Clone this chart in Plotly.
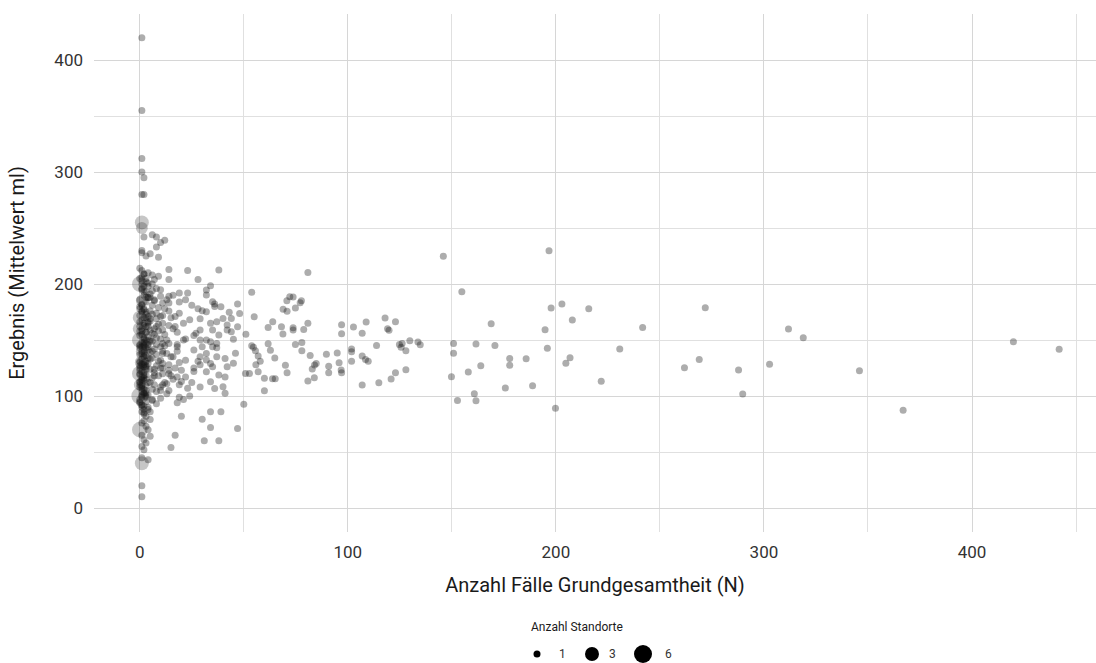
import math
import plotly.graph_objects as go

# ---------------- data ----------------
# Standorte = 1, dense column N <= 11
n_saeule = [1, 1, 3, 5, 9, 2, 6, 8, 10, 8,
            2, 4, 6, 9, 1, 3,
            1, 2, 4, 6, 8, 3, 5, 10, 7, 1, 2,
            0, 1, 2, 3, 4, 5, 6, 7, 9, 11, 8, 1,
            0, 1, 2, 3, 4, 5, 6, 7, 8, 9, 10, 3,
            0, 1, 1, 2, 3, 4, 4, 5, 6, 7, 8, 9, 10, 11, 2,
            0, 1, 1, 2, 3, 3, 4, 5, 6, 7, 8, 9, 10, 11, 2,
            0, 1, 1, 2, 3, 4, 5, 6, 7, 8, 9, 11, 3,
            0, 1, 2, 2, 3, 4, 5, 6, 7, 8, 10, 1,
            0, 1, 2, 3, 4, 5, 6, 8, 10, 3,
            2, 3, 2, 5, 1, 3, 4, 1, 2, 3, 1, 2, 5, 4, 1,
            1, 1, 1, 1, 1, 1, 2, 1, 2,
            0, 1, 2, 3, 0, 1, 2, 4, 0, 1, 3, 2, 0, 1, 2, 0, 1, 3, 0, 2, 1, 0, 2, 1, 3, 0, 1, 2]
erg_saeule = [230, 228, 225, 227, 224, 242, 244, 242, 237, 233,
              209, 210, 208, 207, 212, 205,
              203, 198, 201, 200, 196, 193, 191, 189, 204, 195, 190,
              186, 182, 178, 184, 188, 176, 181, 186, 179, 183, 174, 176,
              172, 168, 165, 170, 162, 167, 173, 160, 169, 164, 171, 175,
              158, 155, 148, 152, 157, 146, 153, 159, 149, 155, 146, 158, 151, 147, 145,
              143, 138, 133, 141, 136, 131, 144, 139, 134, 142, 137, 131, 144, 140, 130,
              127, 122, 117, 126, 119, 129, 124, 116, 121, 127, 118, 125, 115,
              112, 107, 103, 114, 109, 101, 112, 106, 110, 104, 105, 101,
              97, 92, 88, 95, 90, 86, 96, 93, 98, 99,
              84, 82, 78, 79, 76, 73, 70, 65, 61, 58, 55, 52, 64, 43, 45,
              20, 10, 420, 355, 312, 300, 295, 280, 280,
              205, 200, 193, 188, 180, 175, 170, 166, 162, 160, 150, 148, 146, 140, 135, 130, 128, 124, 120, 118, 115, 110, 106, 104, 100, 95, 90, 85]

# Standorte = 1, further points in the dark core of the column
n_kern = [0, 2, 1, 4, 3, 6, 5, 7, 1, 0, 3, 2, 5, 4, 8, 1, 0, 2, 6, 3,
          1, 4, 0, 2, 5, 1, 3, 0, 2, 7, 1, 4, 0, 3, 2, 1, 6, 0, 2, 4,
          1, 3, 5, 0, 2, 1, 8, 3, 0, 1, 4, 2, 6, 0, 3, 1, 5, 2, 0, 4,
          1, 3, 2, 0, 1, 7, 2, 4, 0, 3]
erg_kern = [214, 209, 206, 198, 202, 194, 188, 185, 181, 178, 173, 177, 169, 165, 162, 158, 154, 151, 156, 147,
            144, 141, 137, 139, 133, 129, 126, 123, 121, 118, 114, 112, 108, 105, 102, 99, 97, 94, 91, 88,
            86, 162, 149, 131, 116, 196, 152, 143, 125, 109, 171, 136, 140, 119, 127, 100, 150, 163, 145, 134,
            110, 157, 128, 113, 92, 124, 146, 188, 166, 103]

# Standorte = 1, N 10..21 (fringe of the column)
n_rand = [10, 12, 15, 11, 13, 16, 18, 12, 10, 14, 17, 13, 11, 15, 19, 12, 16, 10, 13, 21,
          11, 14, 17, 12, 15, 10, 13, 18, 11, 16]
erg_rand = [195, 178, 170, 165, 150, 160, 140, 145, 132, 128, 125, 138, 120, 118, 130, 112, 115, 108, 102, 150,
            172, 176, 162, 155, 135, 125, 186, 146, 110, 190]

# Standorte = 1, N 12..29
n_links = [12, 14, 23, 14, 28, 19, 23, 14, 14, 19, 22, 25, 28, 19, 17, 21, 24, 29, 14, 11,
           18, 27, 29, 26, 22, 29, 14, 18, 26, 11, 16, 22, 28, 11, 14, 20, 26, 29, 26, 18,
           22, 20, 19, 14, 13, 14, 23, 29, 25, 19, 24, 21, 18, 20, 17, 15]
erg_links = [239, 213, 212, 204, 204, 192, 192, 189, 183, 184, 186, 181, 178, 174, 171, 165, 168, 169, 163, 159,
             157, 156, 159, 154, 151, 150, 147, 144, 141, 138, 135, 132, 131, 129, 123, 123, 125, 128, 122, 117,
             117, 113, 110, 120, 111, 105, 107, 108, 112, 99, 100, 97, 94, 82, 65, 54]

# Standorte = 1, N 29..50
n_links2 = [38, 34, 32, 32, 35, 36, 39, 47, 48, 30, 32, 43, 44, 40, 37, 34, 47, 42, 35, 38,
            44, 45, 34, 30, 35, 29, 32, 37, 41, 46, 45, 42, 35, 32, 38, 34, 40, 41, 36, 30,
            34, 39, 34, 31, 38, 47, 50, 41, 37, 42, 32, 37, 32, 34, 36]
erg_links2 = [212.5, 198.5, 194.6, 190.2, 184.2, 182.1, 179.8, 182.1, 173.8, 176.2,
              175.3, 174.7, 169.3, 169.3, 166.4, 164.9, 161.9, 163.4, 158.9, 154.5,
              157.4, 150.6, 148.5, 144, 144, 135, 132.1, 135.1, 133.6, 138.1,
              129.2, 126.2, 126.2, 121.7, 118.8, 112.8, 108.3, 102.4, 106.8, 79.2,
              86, 86, 72, 60.1, 60.1, 71, 92.6, 117, 147, 159,
              150, 143, 138, 129, 180]

# Standorte = 1, N 50..135
n_mitte = [80.8, 53.8, 72.1, 73.7, 70.7, 77.7, 77.1, 74.8, 68.9, 70.8,
           55.0, 63.9, 80.8, 61.7, 68.1, 73.7, 73.7, 78.8, 68.8, 51.0,
           97.0, 97.0, 102.7, 106.9, 108.8, 117.9, 119.1, 119.8, 122.9, 113.8,
           124.8, 126.1, 125.6, 127.9, 129.8, 133.7, 134.8, 53.8, 54.6, 55.6,
           56.9, 57.9, 61.7, 62.8, 64.9, 70.0, 70.8, 74.8, 77.9, 77.9,
           81.9, 84.0, 84.8, 82.9, 83.9, 80.8, 89.7, 94.9, 90.8, 90.8,
           95.8, 96.8, 97.0, 101.8, 101.8, 101.8, 106.9, 108.5, 109.8, 106.9,
           114.9, 120.8, 122.9, 127.9, 55.8, 56.9, 52.7, 50.8, 59.9, 63.8,
           65.1, 59.9]
erg_mitte = [210.4, 192.6, 188.7, 188.4, 185.1, 185.1, 183.3, 178.6, 177.4, 175.6,
             170.8, 166.4, 164.9, 161.3, 161.9, 161.0, 158.9, 159.5, 155.4, 155.1,
             163.7, 155.7, 161.6, 156.0, 166.1, 169.6, 160.1, 158.8, 166.4, 145.2,
             146.1, 147.0, 143.5, 140.5, 149.4, 148.2, 145.8, 144.9, 143.5, 140.5,
             135.7, 131.0, 146.7, 140.8, 133.9, 127.4, 120.8, 146.1, 147.9, 140.5,
             136.3, 127.7, 129.0, 124.1, 116.4, 113.4, 137.2, 138.4, 126.5, 120.8,
             129.8, 123.2, 120.8, 142.0, 139.6, 131.0, 135.7, 132.7, 131.0, 109.8,
             111.9, 115.2, 120.8, 123.5, 128.0, 121.7, 120.2, 120.2, 115.8, 115.5,
             115.5, 104.8]

# Standorte = 1, N > 135
n_rechts = [145.9, 196.7, 154.8, 197.7, 202.9, 215.8, 271.8, 168.9, 207.9, 194.8,
            241.7, 311.8, 318.9, 419.9, 441.9, 150.8, 150.8, 161.6, 170.7, 195.9,
            230.7, 177.8, 185.7, 177.8, 163.9, 206.8, 204.8, 268.9, 261.8, 287.8,
            302.7, 345.9, 157.9, 149.8, 221.8, 188.8, 175.7, 160.8, 152.7, 161.6,
            289.8, 199.8, 366.9]
erg_rechts = [224.7, 229.8, 193.2, 178.6, 182.1, 178.0, 178.9, 164.6, 167.9, 159.2,
              161.3, 159.8, 152.1, 148.5, 141.7, 147.0, 138.1, 146.4, 145.2, 142.6,
              142.0, 133.6, 133.3, 127.4, 127.1, 134.2, 129.2, 132.7, 125.3, 123.2,
              128.3, 122.6, 121.4, 117.3, 113.1, 109.2, 107.1, 102.1, 96.1, 95.8,
              101.8, 89.0, 87.2]

# Standorte > 1
n_mehr = [1, 1, 0, 1, 0, 0, 0, 1, 0, 0, 0, 1, 0, 1]
erg_mehr = [255, 250, 200, 185, 170, 160, 150, 140, 120, 110, 100, 130, 70, 40]
anz_mehr = [3, 2, 4, 2, 3, 3, 4, 2, 4, 2, 5, 3, 4, 3]

legend_werte = [1, 3, 6]
x_ticks = [0, 100, 200, 300, 400]
y_ticks = [0, 100, 200, 300, 400]

# ---------------- styling ----------------
FONT = "Roboto"
PT_COLOR = "rgba(20,20,20,0.35)"
D_MIN, D_MAX, V_MIN, V_MAX = 7.0, 18.0, 1, 6


def durchmesser(v):
    return D_MIN + (D_MAX - D_MIN) * math.sqrt((v - V_MIN) / (V_MAX - V_MIN))


n_einzel = n_saeule + n_kern + n_rand + n_links + n_links2 + n_mitte + n_rechts
erg_einzel = erg_saeule + erg_kern + erg_rand + erg_links + erg_links2 + erg_mitte + erg_rechts

fig = go.Figure()
fig.add_trace(go.Scatter(
    x=n_einzel, y=erg_einzel, mode="markers",
    marker=dict(size=durchmesser(1), color=PT_COLOR, line=dict(width=0)),
    showlegend=False, hoverinfo="x+y"))
fig.add_trace(go.Scatter(
    x=n_mehr, y=erg_mehr, mode="markers",
    marker=dict(size=[durchmesser(v) for v in anz_mehr], color=PT_COLOR, line=dict(width=0)),
    showlegend=False, hoverinfo="x+y"))

L, R, T, B = 94, 0, 14, 131
W, H = 1096, 663
pw, ph = W - L - R, H - T - B

fig.update_layout(
    width=W, height=H,
    margin=dict(l=L, r=R, t=T, b=B, pad=0),
    paper_bgcolor="white", plot_bgcolor="white",
    font=dict(family=FONT, color="#333333"),
    showlegend=False,
)
fig.update_xaxes(
    range=[-22, 459.6], tickvals=x_ticks, ticktext=[str(v) for v in x_ticks],
    showgrid=True, gridcolor="#d6d6d6", gridwidth=1.4,
    minor=dict(tickvals=[50, 150, 250, 350, 450], showgrid=True, gridcolor="#e0e0e0", gridwidth=1.1),
    zeroline=False, showline=False, ticks="",
    tickfont=dict(size=17, color="#333333", family=FONT),
    ticklabelstandoff=8,
    title=dict(text="Anzahl Fälle Grundgesamtheit (N)", font=dict(size=20, color="#1a1a1a", family=FONT),
               standoff=16),
)
fig.update_yaxes(
    range=[-21.4, 441.1], tickvals=y_ticks, ticktext=[str(v) for v in y_ticks],
    showgrid=True, gridcolor="#d6d6d6", gridwidth=1.4,
    minor=dict(tickvals=[50, 150, 250, 350], showgrid=True, gridcolor="#e0e0e0", gridwidth=1.1),
    zeroline=False, showline=False, ticks="",
    tickfont=dict(size=17, color="#333333", family=FONT),
    ticklabelstandoff=10,
    title=dict(text="Ergebnis (Mittelwert ml)", font=dict(size=20, color="#1a1a1a", family=FONT),
               standoff=24),
)


def px2paper_x(px):
    return (px - L) / pw


def px2paper_y(py):
    return (H - B - py) / ph


fig.add_annotation(text="Anzahl Standorte", x=px2paper_x(577), y=px2paper_y(627),
                   xref="paper", yref="paper", showarrow=False,
                   font=dict(size=12, color="#1a1a1a", family=FONT), xanchor="center", yanchor="middle")
leg_dot_px = [537, 592, 643]
leg_lab_px = [562, 612, 668]
for v, dx, lx in zip(legend_werte, leg_dot_px, leg_lab_px):
    r = durchmesser(v) / 2
    fig.add_shape(type="circle", xref="paper", yref="paper", xsizemode="pixel", ysizemode="pixel",
                  xanchor=px2paper_x(dx), yanchor=px2paper_y(654), x0=-r, x1=r, y0=-r, y1=r,
                  fillcolor="black", line=dict(width=0))
    fig.add_annotation(text=str(v), x=px2paper_x(lx), y=px2paper_y(654), xref="paper", yref="paper",
                       showarrow=False, font=dict(size=12, color="#333333", family=FONT),
                       xanchor="center", yanchor="middle")

fig.write_html("out.html")
